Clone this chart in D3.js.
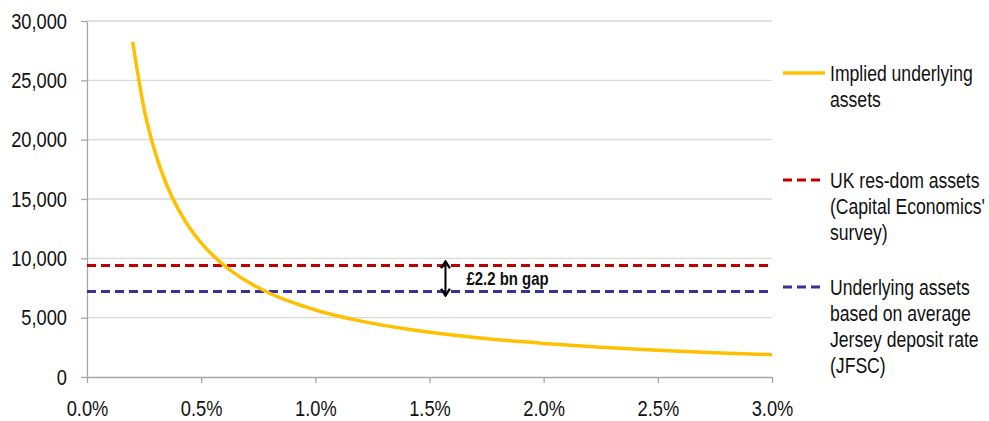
<!DOCTYPE html>
<html>
<head>
<meta charset="utf-8">
<script src="https://cdn.jsdelivr.net/npm/d3@7"></script>
<style>
  html, body { margin: 0; padding: 0; background: #fff; }
  svg { display: block; }
  text { font-family: "Liberation Sans Narrow", "Arial Narrow", "Liberation Sans", Arial, sans-serif; fill: #111; }
</style>
</head>
<body>
<svg id="chart" width="989" height="421"></svg>
<script>
// Deposit rate (%) and implied underlying assets (£m)
const rates = [0.2, 0.25, 0.3, 0.35, 0.4, 0.45, 0.5, 0.6, 0.7, 0.8, 0.9, 1.0, 1.2, 1.4, 1.6, 1.8, 2.0, 2.25, 2.5, 2.75, 3.0];
const impliedAssets = [28250, 22600, 18830, 16140, 14130, 12560, 11300, 9420, 8070, 7060, 6280, 5650, 4710, 4040, 3530, 3140, 2830, 2510, 2260, 2050, 1880];
// Reference levels (£m)
const ukResDom = 9400;
const jerseyDeposit = 7200;
const yTicks = [0, 5000, 10000, 15000, 20000, 25000, 30000];
const xTicks = [0, 0.5, 1.0, 1.5, 2.0, 2.5, 3.0];
const legendLabels = [
  ["Implied underlying", "assets"],
  ["UK res-dom assets", "(Capital Economics'", "survey)"],
  ["Underlying assets", "based on average", "Jersey deposit rate", "(JFSC)"]
];
const gapLabel = "£2.2 bn gap";

const colors = { implied: "#FFC000", ukResDom: "#C00000", jersey: "#333399" };

// Condensed lettering: horizontal squeeze applied to regular glyphs
const SQ = 0.83;
const SQ_LEGEND = 0.8;
function squeeze(sel) {
  sel.each(function () {
    const t = d3.select(this);
    const x0 = +t.attr("x") || 0;
    t.attr("x", x0 / SQ).attr("transform", `scale(${SQ},1)`);
  });
}

const svg = d3.select("#chart");
const plot = { left: 87, right: 772, top: 21, bottom: 377 };

const x = d3.scaleLinear().domain([0, 3]).range([plot.left, plot.right]);
const y = d3.scaleLinear().domain([0, 30000]).range([plot.bottom, plot.top]);

// Horizontal gridlines
svg.append("g")
  .selectAll("line")
  .data(yTicks.filter(d => d > 0))
  .join("line")
  .attr("x1", plot.left).attr("x2", plot.right)
  .attr("y1", d => y(d)).attr("y2", d => y(d))
  .attr("stroke", "#d9d9d9").attr("stroke-width", 1.3);

// Y axis
const yAxis = svg.append("g")
  .attr("transform", `translate(${plot.left},0)`)
  .call(d3.axisLeft(y).tickValues(yTicks).tickSize(6).tickSizeOuter(0).tickPadding(14)
    .tickFormat(d3.format(",")));
yAxis.select(".domain").attr("stroke", "#a6a6a6").attr("stroke-width", 1.3);
yAxis.selectAll(".tick line").attr("stroke", "#a6a6a6").attr("stroke-width", 1.3);
yAxis.selectAll("text").attr("font-size", 22).attr("fill", "#111").call(squeeze);

// X axis
const xAxis = svg.append("g")
  .attr("transform", `translate(0,${plot.bottom})`)
  .call(d3.axisBottom(x).tickValues(xTicks).tickSize(6).tickSizeOuter(0).tickPadding(17)
    .tickFormat(d => d.toFixed(1) + "%"));
xAxis.select(".domain").attr("stroke", "#a6a6a6").attr("stroke-width", 1.3);
xAxis.selectAll(".tick line").attr("stroke", "#a6a6a6").attr("stroke-width", 1.3);
xAxis.selectAll("text").attr("font-size", 22).attr("fill", "#111").call(squeeze);

// Reference lines
const dash = "9,5";
svg.append("line")
  .attr("x1", plot.left).attr("x2", plot.right)
  .attr("y1", y(ukResDom)).attr("y2", y(ukResDom))
  .attr("stroke", colors.ukResDom).attr("stroke-width", 3).attr("stroke-dasharray", dash);
svg.append("line")
  .attr("x1", plot.left).attr("x2", plot.right)
  .attr("y1", y(jerseyDeposit)).attr("y2", y(jerseyDeposit))
  .attr("stroke", colors.jersey).attr("stroke-width", 3).attr("stroke-dasharray", dash);

// Implied assets curve
const line = d3.line()
  .x((d, i) => x(rates[i]))
  .y(d => y(d))
  .curve(d3.curveMonotoneX);
svg.append("path")
  .datum(impliedAssets)
  .attr("d", line)
  .attr("fill", "none")
  .attr("stroke", colors.implied)
  .attr("stroke-width", 3.5);

// Gap annotation: double-headed arrow between the two reference lines
const defs = svg.append("defs");
["start", "end"].forEach(id => {
  defs.append("marker")
    .attr("id", "arrow-" + id)
    .attr("viewBox", "0 0 10 10")
    .attr("refX", 8.5).attr("refY", 5)
    .attr("markerWidth", 9).attr("markerHeight", 11)
    .attr("markerUnits", "userSpaceOnUse")
    .attr("orient", id === "end" ? "auto" : "auto-start-reverse")
    .attr("preserveAspectRatio", "none")
    .append("path")
    .attr("d", "M1,1 L8.5,5 L1,9")
    .attr("fill", "none").attr("stroke", "#000").attr("stroke-width", 2.2);
});
const arrowX = x(1.57);
svg.append("line")
  .attr("x1", arrowX).attr("x2", arrowX)
  .attr("y1", y(ukResDom) - 4).attr("y2", y(jerseyDeposit) + 4)
  .attr("stroke", "#000").attr("stroke-width", 2)
  .attr("marker-start", "url(#arrow-start)")
  .attr("marker-end", "url(#arrow-end)");
svg.append("text")
  .attr("x", arrowX + 21)
  .attr("y", (y(ukResDom) + y(jerseyDeposit)) / 2)
  .attr("dy", "0.35em")
  .attr("font-size", 18).attr("font-weight", "bold")
  .text(gapLabel)
  .call(squeeze);

// Legend
const legendX = 783, legendLine = 42, lineGap = 26;
const legendY = [73, 180, 287];
const legendStyles = [
  { color: colors.implied, dash: null, width: 3.5 },
  { color: colors.ukResDom, dash: dash, width: 3 },
  { color: colors.jersey, dash: dash, width: 3 }
];
legendLabels.forEach((lines, i) => {
  const g = svg.append("g").attr("transform", `translate(${legendX},${legendY[i]})`);
  g.append("line")
    .attr("x1", 0).attr("x2", legendLine)
    .attr("y1", 0).attr("y2", 0)
    .attr("stroke", legendStyles[i].color)
    .attr("stroke-width", legendStyles[i].width)
    .attr("stroke-dasharray", legendStyles[i].dash);
  const t = g.append("g").attr("transform", `translate(${legendLine + 5},0) scale(${SQ_LEGEND},1)`)
    .append("text").attr("font-size", 22);
  lines.forEach((s, j) => {
    t.append("tspan").attr("x", 0).attr("y", j * lineGap).attr("dy", "0.35em").text(s);
  });
});
</script>
</body>
</html>
